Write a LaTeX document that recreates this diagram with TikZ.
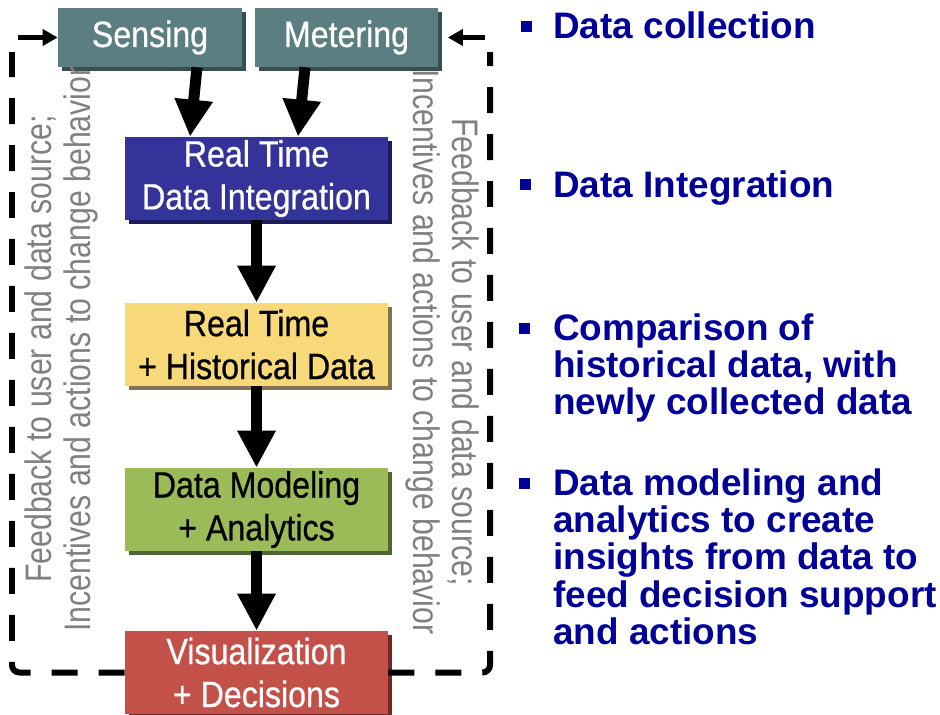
\documentclass[tikz,border=0pt]{standalone}
\usepackage{fontspec}
\setmainfont{Liberation Sans}
\newfontfamily\boxfont[FakeStretch=0.88, FakeBold=0.6]{Liberation Sans}
\newfontfamily\narrowfont[FakeStretch=0.82]{Liberation Sans}
\usetikzlibrary{arrows.meta,shadows}
\definecolor{tealbox}{HTML}{5B7F80}
\definecolor{tealshade}{HTML}{35504F}
\definecolor{bluebox}{HTML}{333399}
\definecolor{blueshade}{HTML}{1C1C5C}
\definecolor{yellowbox}{HTML}{F7D97A}
\definecolor{yellowshade}{HTML}{7E7352}
\definecolor{greenbox}{HTML}{9BBB59}
\definecolor{greenshade}{HTML}{4F6630}
\definecolor{redbox}{HTML}{C4504A}
\definecolor{redshade}{HTML}{6E2A27}
\definecolor{notegray}{HTML}{808080}
\definecolor{itemblue}{HTML}{000099}
\begin{document}
\begin{tikzpicture}[x=0.02cm, y=-0.02cm,
    boxshade/.style={drop shadow={shadow xshift=0.08cm, shadow yshift=-0.08cm, opacity=1, fill=#1}},
    stage/.style={rectangle, inner sep=0pt, minimum width=5.26cm, minimum height=1.66cm, align=center, font=\boxfont\fontsize{20.8}{24.4}\selectfont},
    source/.style={stage, minimum width=3.68cm, minimum height=1.18cm, fill=tealbox, text=white, boxshade=tealshade},
    flow/.style={line width=0.22cm, -{Triangle[length=0.74cm, width=0.72cm]}},
    feedback/.style={line width=0.12cm, dash pattern=on 0.52cm off 0.42cm, rounded corners=0.15cm},
    feedtip/.style={line width=0.1cm, -{Triangle[length=0.3cm, width=0.32cm]}},
    note/.style={text=notegray, align=center, inner sep=0pt, font=\narrowfont\fontsize{21}{22.2}\selectfont},
    bullet/.style={rectangle, fill=itemblue, minimum size=0.22cm, inner sep=0pt},
    item/.style={anchor=north west, inner sep=0pt, align=left, text=itemblue, font=\bfseries\fontsize{21}{21.3}\selectfont}]
  \useasboundingbox (0,0) rectangle (940,714);

  \node[source] (sens) at (150,37.5){Sensing};
  \node[source] (meter) at (346.5,37.5){Metering};
  \node[stage, fill=bluebox, text=white, boxshade=blueshade] (integ) at (256.5,178.5){Real Time\\Data Integration};
  \node[stage, fill=yellowbox, boxshade=yellowshade] (hist) at (256.5,344.5){Real Time\\+ Historical Data};
  \node[stage, fill=greenbox, boxshade=greenshade] (model) at (256.5,509.5){Data Modeling\\+ Analytics};
  \node[stage, fill=redbox, text=white, boxshade=redshade] (visu) at (256.5,672.5){Visualization\\+ Decisions};

  \draw[flow] ([xshift=0.94cm]sens.south) -- ([xshift=-1.33cm]integ.north);
  \draw[flow] ([xshift=-0.83cm]meter.south) -- ([xshift=0.83cm]integ.north);
  \draw[flow] (integ) -- (hist);
  \draw[flow] (hist) -- (model);
  \draw[flow] (model) -- (visu);

  % feedback loop
  \coordinate (ltop) at (12,52);
  \coordinate (lstart) at (18,37.5);
  \coordinate (rtop) at (490,52);
  \coordinate (rstart) at (485,37.5);
  \draw[feedback] (visu.west) -| (ltop);
  \draw[feedback] (visu.east) -| (rtop);
  \draw[feedtip] (lstart) -- (sens.west);
  \draw[feedtip] (rstart) -- ([xshift=0.18cm]meter.east);

  \node[note, rotate=90] (lnote) at (61,349){Feedback to user and data source;\\Incentives and actions to change behavior};
  \node[note, rotate=-90] (rnote) at (443,352){Feedback to user and data source;\\Incentives and actions to change behavior};

  \node[bullet] (b1) at (526,26){};
  \node[bullet] (b2) at (525,184){};
  \node[bullet] (b3) at (524,328){};
  \node[bullet] (b4) at (524,483){};
  \node[item] (item1) at (553,11){Data collection};
  \node[item] (item2) at (553,170){Data Integration};
  \node[item] (item3) at (553,313){Comparison of\\historical data, with\\newly collected data};
  \node[item] (item4) at (553,468){Data modeling and\\analytics to create\\insights from data to\\feed decision support\\and actions};

\end{tikzpicture}
\end{document}
